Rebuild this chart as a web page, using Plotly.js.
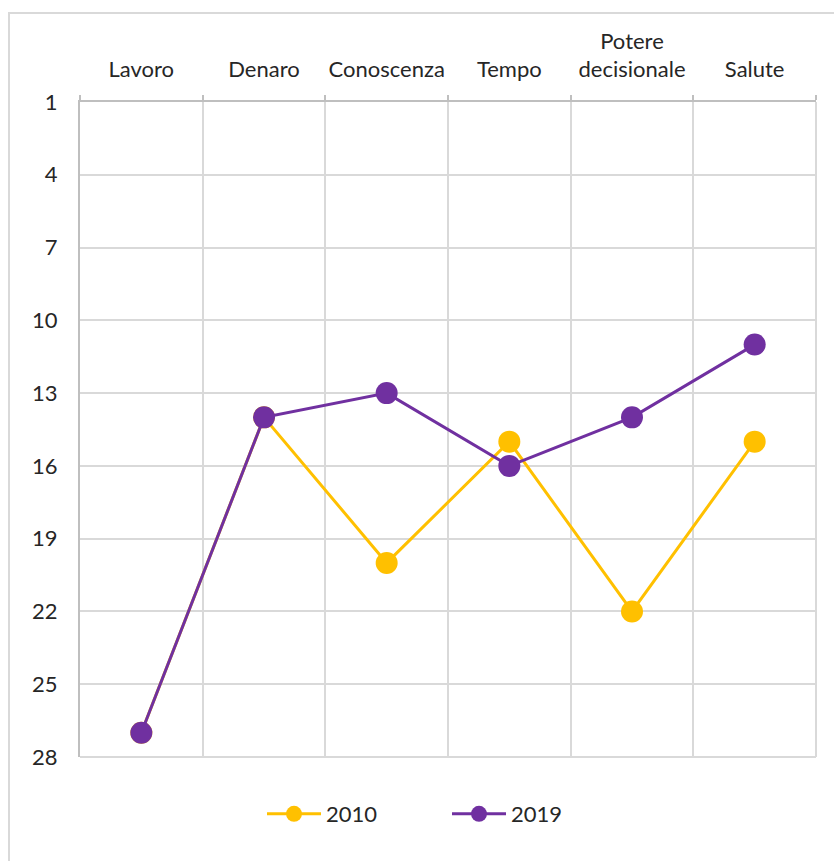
<!DOCTYPE html>
<html>
<head>
<meta charset="utf-8">
<script src="https://cdn.plot.ly/plotly-3.0.1.min.js"></script>
<style>body{margin:0;padding:0;background:#fff}#chart{width:834px;height:861px}</style>
</head>
<body>
<div id="chart"></div>
<script>
const categories = ["Lavoro", "Denaro", "Conoscenza", "Tempo", "Potere<br>decisionale", "Salute"];
const values2010 = [27, 14, 20, 15, 22, 15];
const values2019 = [27, 14, 13, 16, 14, 11];
const yTicks = [1, 4, 7, 10, 13, 16, 19, 22, 25, 28];
const seriesNames = ["2010", "2019"];

const FONT = "Lato, 'Open Sans', sans-serif";
const TXT = "#262626";
const traces = [
  {x: categories, y: values2010, name: seriesNames[0], type: "scatter", mode: "lines+markers",
   line: {color: "#FFC000", width: 3}, marker: {color: "#FFC000", size: 22}, legend: "legend"},
  {x: categories, y: values2019, name: seriesNames[1], type: "scatter", mode: "lines+markers",
   line: {color: "#7030A0", width: 3}, marker: {color: "#7030A0", size: 22}, legend: "legend2"}
];
const legendBase = {orientation: "h", xanchor: "left", y: -0.055, yanchor: "top",
  font: {family: FONT, size: 22, color: TXT}, itemwidth: 54, bgcolor: "rgba(0,0,0,0)"};
const layout = {
  width: 834, height: 861,
  margin: {l: 80, r: 18, t: 102, b: 104},
  paper_bgcolor: "#fff", plot_bgcolor: "#fff",
  font: {family: FONT, size: 22, color: TXT},
  showlegend: true,
  legend: Object.assign({}, legendBase, {x: (262 - 80) / 736}),
  legend2: Object.assign({}, legendBase, {x: (447 - 80) / 736}),
  xaxis: {side: "top", type: "category", tickson: "boundaries", range: [-0.5, 5.5],
          tickangle: 0,
          showgrid: true, gridcolor: "#d9d9d9", gridwidth: 2,
          showline: true, linecolor: "#bfbfbf", linewidth: 2,
          ticks: "outside", ticklen: 5, tickcolor: "#bfbfbf", tickwidth: 2,
          ticklabelstandoff: 14,
          tickfont: {family: FONT, size: 22, color: TXT}, zeroline: false, fixedrange: true},
  yaxis: {range: [28, 1], tickvals: yTicks, ticktext: yTicks.map(String),
          showgrid: true, gridcolor: "#d9d9d9", gridwidth: 2,
          showline: true, linecolor: "#bfbfbf", linewidth: 2, ticks: "",
          ticklabelstandoff: 16,
          tickfont: {family: FONT, size: 22, color: TXT}, zeroline: false, fixedrange: true},
  shapes: [
    {type: "rect", xref: "paper", yref: "paper",
     x0: (9 - 80) / 736, x1: 1.2, y0: -0.3, y1: (757 - 13) / 655,
     line: {color: "#d9d9d9", width: 2}, fillcolor: "rgba(0,0,0,0)", layer: "below"},
    {type: "line", xref: "paper", yref: "paper", x0: 0, x1: 1, y0: 0, y1: 0,
     line: {color: "#d9d9d9", width: 2}, layer: "below"},
    {type: "line", xref: "paper", yref: "paper", x0: 1, x1: 1, y0: 0, y1: 1,
     line: {color: "#d9d9d9", width: 2}, layer: "below"}
  ]
};
Plotly.newPlot("chart", traces, layout, {displayModeBar: false, staticPlot: true});
</script>
</body>
</html>
